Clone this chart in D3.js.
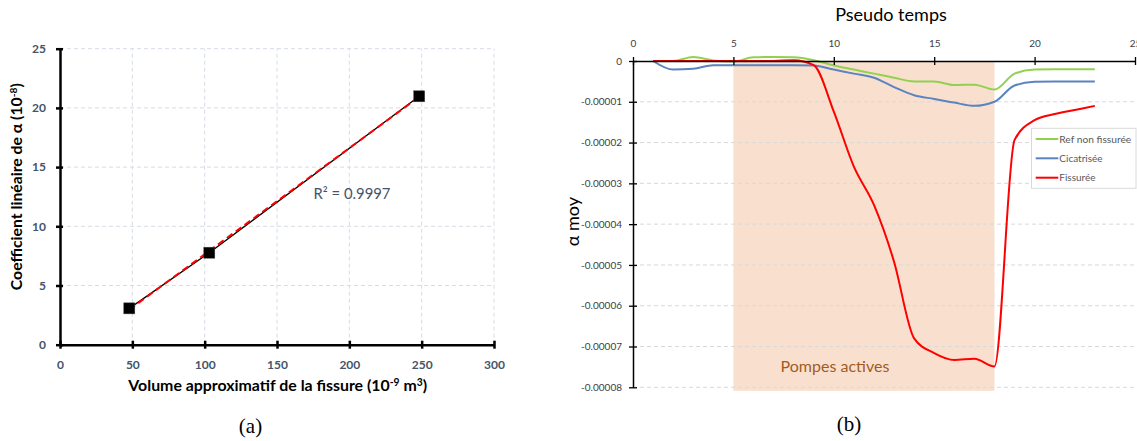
<!DOCTYPE html>
<html><head><meta charset="utf-8">
<script src="https://cdn.jsdelivr.net/npm/d3@7"></script>
<style>
html,body{margin:0;padding:0;background:#fff;}
svg{display:block;}
text{font-family:Lato,"Liberation Sans",sans-serif;}
</style></head>
<body>
<svg id="c" width="1137" height="441"></svg>
<script>
// ---------- Data (a) ----------
const volume = [47.9, 103.2, 248.3];          // 10^-9 m3
const coef   = [3.07, 7.77, 20.98];           // 10^-8
const aXTicks = [0, 50, 100, 150, 200, 250, 300];
const aYTicks = [0, 5, 10, 15, 20, 25];
const r2Label = "R² = 0.9997";

// ---------- Data (b) ----------
const pseudoTime = [1,2,3,4,5,6,7,8,9,10,11,12,13,14,15,16,17,18,19,20,21,22,23];
const refNonFissuree = [0,0,1.0,0.15,-0.1,0.9,1.0,0.9,0.2,-1.1,-2.1,-3.1,-4.1,-5.0,-5.0,-5.9,-5.8,-7.0,-3.1,-2.1,-2.0,-2.0,-2.0].map(v=>v*1e-6);
const cicatrisee     = [0,-2.1,-1.9,-1.05,-1.05,-1.05,-1.05,-1.05,-1.1,-2.1,-3.1,-4.1,-6.4,-8.4,-9.3,-10.2,-11.0,-10.0,-6.0,-5.1,-5.0,-5.0,-5.0].map(v=>v*1e-6);
const fissuree       = [0,0,0,0,0,0,0,0.2,-1.0,-12.4,-25.9,-35.3,-49.2,-68.0,-71.6,-73.3,-73.0,-74.9,-19.4,-14.5,-13.0,-12.0,-11.0].map(v=>v*1e-6);
const seriesNames = ["Ref non fissurée", "Cicatrisée", "Fissurée"];
const bXTicks = [0,5,10,15,20,25];
const bYTicks = [0,-0.00001,-0.00002,-0.00003,-0.00004,-0.00005,-0.00006,-0.00007,-0.00008];
const bYTickLabels = ["0","-0.00001","-0.00002","-0.00003","-0.00004","-0.00005","-0.00006","-0.00007","-0.00008"];
const pumpRange = [5, 18];
const pumpLabel = "Pompes actives";

const svg = d3.select("#c");
function fit(sel, w){
  const bw = sel.node().getBBox().width;
  const fs = parseFloat(sel.style("font-size"));
  sel.style("font-size", (fs*w/bw).toFixed(2)+"px");
}

// ================= Chart (a) =================
const ax = d3.scaleLinear().domain([0,300]).range([60,494]);
const ay = d3.scaleLinear().domain([0,25]).range([344.7,48.7]);
const ga = svg.append("g");
// grid
ga.selectAll(".gx").data(aXTicks.slice(1)).enter().append("line")
  .attr("x1",d=>ax(d)).attr("x2",d=>ax(d)).attr("y1",ay(0)).attr("y2",ay(25))
  .attr("stroke","#D6DCE5").attr("stroke-width",1).attr("stroke-dasharray","4,3");
ga.selectAll(".gy").data(aYTicks.slice(1)).enter().append("line")
  .attr("x1",ax(0)).attr("x2",ax(300)).attr("y1",d=>ay(d)).attr("y2",d=>ay(d))
  .attr("stroke","#D6DCE5").attr("stroke-width",1).attr("stroke-dasharray","4,3");
// axes
const axA = ga.append("g").attr("transform",`translate(0,${ay(0)})`)
  .call(d3.axisBottom(ax).tickValues(aXTicks).tickSize(4).tickSizeOuter(0).tickPadding(12));
axA.select(".domain").attr("stroke","#000").attr("stroke-width",2.5);
axA.selectAll(".tick line").attr("stroke","#000").attr("stroke-width",2.5).attr("y1",-4).attr("y2",4);
axA.selectAll(".tick text").attr("fill","#44546A").style("font-size","12px").style("font-weight","bold")
  .style("font-family","Lato, 'Liberation Sans', sans-serif");
const ayA = ga.append("g").attr("transform",`translate(${ax(0)},0)`)
  .call(d3.axisLeft(ay).tickValues(aYTicks).tickSize(4).tickSizeOuter(0).tickPadding(10));
ayA.select(".domain").attr("stroke","#000").attr("stroke-width",2.5);
ayA.selectAll(".tick line").attr("stroke","#000").attr("stroke-width",2.5).attr("x1",-4).attr("x2",3);
ayA.selectAll(".tick text").attr("fill","#44546A").style("font-size","12px").style("font-weight","bold")
  .style("font-family","Lato, 'Liberation Sans', sans-serif");
// data line
const ptsA = volume.map((v,i)=>[v,coef[i]]);
ga.append("path").datum(ptsA)
  .attr("d", d3.line().x(d=>ax(d[0])).y(d=>ay(d[1])))
  .attr("fill","none").attr("stroke","#000").attr("stroke-width",1.3);
// linear trend
const mx = d3.mean(volume), my = d3.mean(coef);
const slope = d3.sum(volume.map((v,i)=>(v-mx)*(coef[i]-my))) / d3.sum(volume.map(v=>(v-mx)*(v-mx)));
const icpt = my - slope*mx;
const xr = d3.extent(volume);
ga.append("line")
  .attr("x1",ax(xr[0])).attr("y1",ay(icpt+slope*xr[0]))
  .attr("x2",ax(xr[1])).attr("y2",ay(icpt+slope*xr[1]))
  .attr("stroke","#FF0000").attr("stroke-width",2).attr("stroke-dasharray","7,4");
// markers
ga.selectAll(".m").data(ptsA).enter().append("rect")
  .attr("x",d=>ax(d[0])-5.5).attr("y",d=>ay(d[1])-5.5).attr("width",11).attr("height",11)
  .attr("fill","#000").attr("stroke","#444").attr("stroke-width",0.5);
// R2 label
const r2 = ga.append("text").attr("x",313.5).attr("y",199).attr("fill","#44546A")
  .style("font-size","14px").text(r2Label);
fit(r2, 77);
// axis titles
const xt = ga.append("text").attr("x",277.7).attr("y",391).attr("text-anchor","middle")
  .style("font-size","15px").style("font-weight","bold").attr("fill","#000");
xt.append("tspan").text("Volume approximatif de la fissure (10");
xt.append("tspan").attr("dy",-5).style("font-size","0.65em").text("-9");
xt.append("tspan").attr("dy",5).text(" m");
xt.append("tspan").attr("dy",-5).style("font-size","0.65em").text("3");
xt.append("tspan").attr("dy",5).text(")");
fit(xt, 300);
const yt = ga.append("text").attr("transform","translate(22,186.7) rotate(-90)").attr("text-anchor","middle")
  .style("font-size","15px").style("font-weight","bold").attr("fill","#000");
yt.append("tspan").text("Coefficient linéaire de α (10");
yt.append("tspan").attr("dy",-5).style("font-size","0.65em").text("-8");
yt.append("tspan").attr("dy",5).text(")");
fit(yt, 207);
svg.append("text").attr("x",250.5).attr("y",433).attr("text-anchor","middle")
  .style("font-family","'Liberation Serif','DejaVu Serif',serif").style("font-size","21px").attr("fill","#000").text("(a)");

// ================= Chart (b) =================
const bx = d3.scaleLinear().domain([0,25]).range([633,1135]);
const by = d3.scaleLinear().domain([0,-0.00008]).range([61,387.3]);
const gb = svg.append("g");
// shaded pump region
gb.append("rect").attr("x",bx(pumpRange[0])).attr("y",by(0))
  .attr("width",bx(pumpRange[1])-bx(pumpRange[0])).attr("height",by(-0.00008)+3.5-by(0))
  .attr("fill","#F9E0CE");
// grid
gb.selectAll(".gy").data(bYTicks.slice(1)).enter().append("line")
  .attr("x1",bx(0)).attr("x2",1137).attr("y1",d=>by(d)).attr("y2",d=>by(d))
  .attr("stroke","#D9D9D9").attr("stroke-width",1).attr("stroke-dasharray","4,3");
// pump label
const pl = gb.append("text").attr("x",835).attr("y",371.5)
  .attr("text-anchor","middle").attr("fill","#A35A1E").style("font-size","16px").text(pumpLabel);
fit(pl, 109);
// lines
const lineB = d3.line().x((d,i)=>bx(pseudoTime[i])).y(d=>by(d)).curve(d3.curveMonotoneX);
const colors = ["#92D050","#5B83C0","#FF0000"];
[refNonFissuree, cicatrisee, fissuree].forEach((s,k)=>{
  gb.append("path").datum(s).attr("d",lineB).attr("fill","none")
    .attr("stroke",colors[k]).attr("stroke-width",2);
});
// axes
const bxA = gb.append("g").attr("transform",`translate(0,${by(0)})`)
  .call(d3.axisTop(bx).tickValues(bXTicks).tickSize(4).tickSizeOuter(0).tickPadding(10));
bxA.select(".domain").attr("stroke","#000").attr("stroke-width",1.5);
bxA.selectAll(".tick line").attr("stroke","#000").attr("stroke-width",1.3).attr("y1",-4).attr("y2",4);
bxA.selectAll(".tick text").attr("fill","#404040").style("font-size","10px")
  .style("font-family","Lato, 'Liberation Sans', sans-serif");
const byA = gb.append("g").attr("transform",`translate(${bx(0)},0)`)
  .call(d3.axisLeft(by).tickValues(bYTicks).tickFormat((d,i)=>bYTickLabels[i]).tickSize(4).tickSizeOuter(0).tickPadding(7));
byA.select(".domain").attr("stroke","#000").attr("stroke-width",1.5);
byA.selectAll(".tick line").attr("stroke","#000").attr("stroke-width",1.3).attr("x1",-4).attr("x2",4);
byA.selectAll(".tick text").attr("fill","#404040").style("font-size","10px")
  .style("font-family","Lato, 'Liberation Sans', sans-serif");
// titles
const bt = gb.append("text").attr("x",891).attr("y",21).attr("text-anchor","middle")
  .attr("fill","#000").style("font-size","18px").text("Pseudo temps");
fit(bt, 112);
const byt = gb.append("text").attr("transform","translate(579,221.7) rotate(-90)").attr("text-anchor","middle")
  .attr("fill","#000").style("font-size","18px").text("α moy");
fit(byt, 50);
// legend
const lg = gb.append("g");
lg.append("rect").attr("x",1031.5).attr("y",128.3).attr("width",104.5).attr("height",60)
  .attr("fill","#fff").attr("stroke","#D9D9D9").attr("stroke-width",1);
const rowsY = [139, 158.3, 177.7];
seriesNames.forEach((n,k)=>{
  lg.append("line").attr("x1",1035.7).attr("x2",1058.3).attr("y1",rowsY[k]).attr("y2",rowsY[k])
    .attr("stroke",colors[k]).attr("stroke-width",2);
  const t = lg.append("text").attr("x",1059.3).attr("y",rowsY[k]+3.6).attr("fill","#595959")
    .style("font-size","10px").text(n);
  if(k===0) fit(t, 72);
});
svg.append("text").attr("x",849).attr("y",431).attr("text-anchor","middle")
  .style("font-family","'Liberation Serif','DejaVu Serif',serif").style("font-size","21px").attr("fill","#000").text("(b)");
</script>
</body></html>
